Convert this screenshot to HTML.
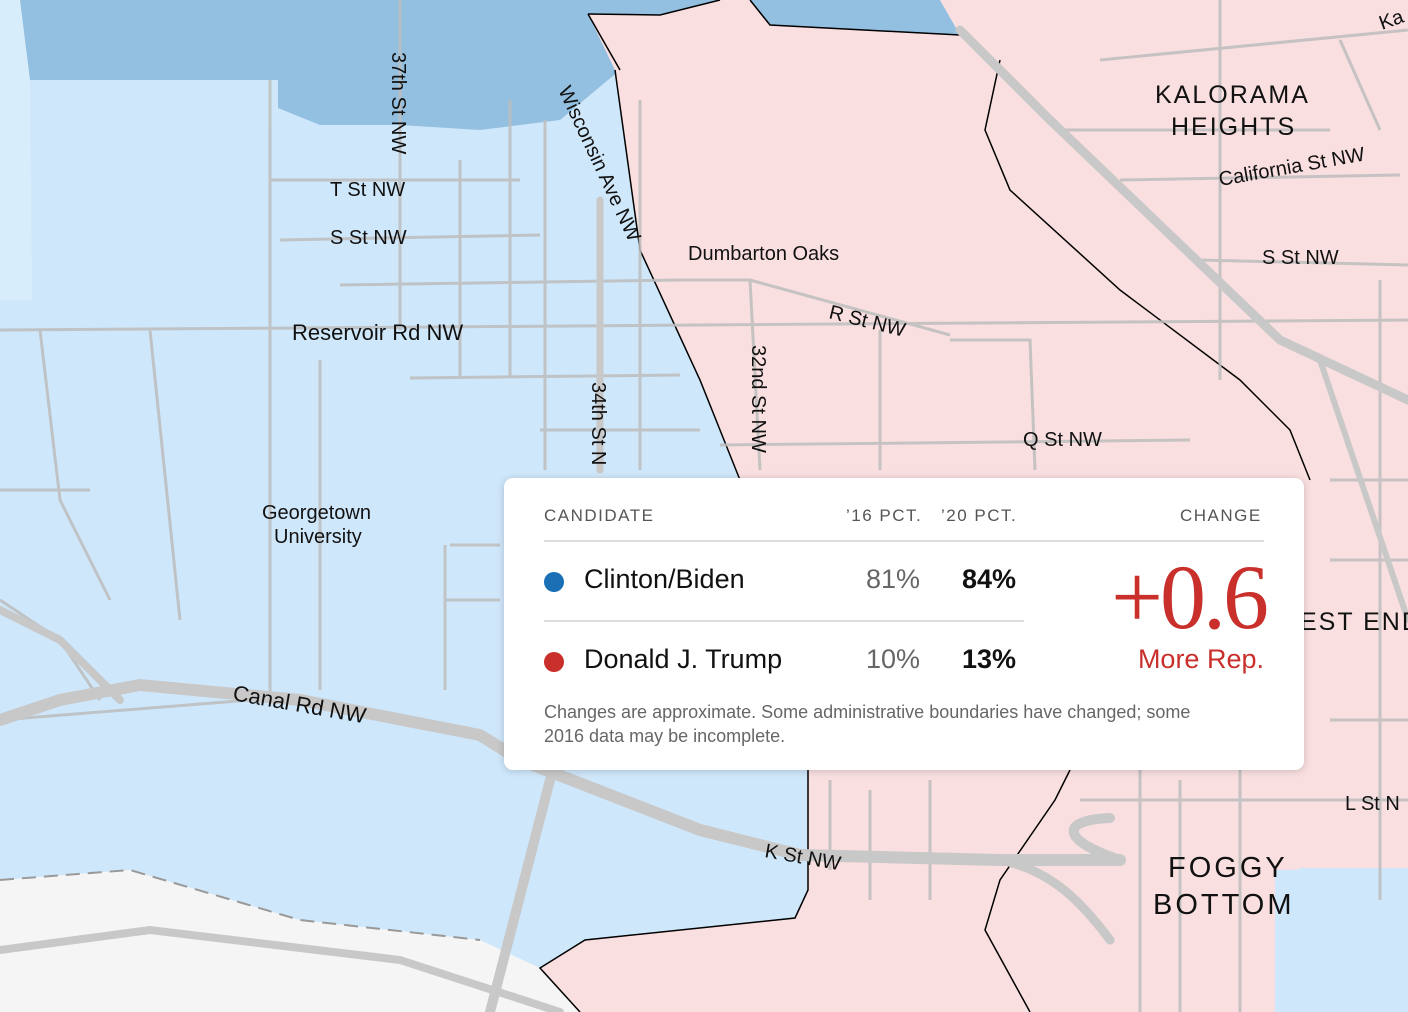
<!DOCTYPE html>
<html><head><meta charset="utf-8"><style>
body{margin:0;width:1408px;height:1012px;overflow:hidden;font-family:"Liberation Sans",sans-serif;}
svg{position:absolute;left:0;top:0}
.lab{font-family:"Liberation Sans",sans-serif;font-size:20px;fill:#111}
#tip{position:absolute;left:504px;top:478px;width:800px;height:292px;background:#fff;border-radius:9px;box-shadow:0 1px 8px rgba(0,0,0,.18);}
#tip div{position:absolute;white-space:nowrap}
.h{font-size:17px;color:#555;letter-spacing:1.5px;top:28px}
.n{font-size:27px;color:#111}
.p{font-size:27px;color:#666}
.b{font-size:27px;color:#111;font-weight:bold}
.dot{width:20px;height:20px;border-radius:50%}
</style></head><body>
<svg width="1408" height="1012" viewBox="0 0 1408 1012">
<rect width="1408" height="1012" fill="#cfe7fa"/>
<polygon points="0,0 30,80 278,80 278,108 320,125 400,125 480,130 560,120 620,70 588,14 660,15 720,0" fill="#93bfe0"/>
<polygon points="720,0 750,0 770,25 960,35 940,0" fill="#93bfe0"/>
<polygon points="0,0 20,0 30,80 32,300 0,300" fill="#d8edfc"/>
<polygon points="588,14 660,15 720,0 750,0 770,25 960,35 940,0 1408,0 1408,868 1300,868 1275,890 1275,1012 580,1012 540,968 585,940 795,918 808,890 808,770 740,480 700,380 640,250 615,70" fill="#f9dfe0"/>
<polygon points="1275,870 1408,868 1408,1012 1275,1012" fill="#cfe7fa"/>
<polygon points="0,880 130,870 300,920 480,940 540,968 580,1012 0,1012" fill="#f5f5f5"/>
<g fill="none" stroke="#000" stroke-width="1.5">
<polyline points="588,14 660,15 720,0"/><polyline points="750,0 770,25 960,35"/>
<polyline points="620,70 588,14"/><polyline points="615,70 640,250 700,380 740,480"/>
<polyline points="808,770 808,890 795,918 585,940 540,968 580,1012"/>
<polyline points="1000,60 985,130 1010,190 1120,290 1240,380 1290,430 1310,480"/>
<polyline points="1070,770 1055,800 1000,880 985,930 1030,1012"/>
</g>
<g fill="none" stroke="#bdbdbd" stroke-width="3" opacity=".85">
<path d="M0,330 L300,328 L700,325 L1408,320"/>
<path d="M270,180 L520,180 M280,240 L540,235 M340,285 L680,280 M410,378 L680,375 M540,430 L700,430"/>
<path d="M400,0 L400,330 M460,160 L460,378 M510,100 L510,378 M545,120 L545,470 M640,100 L640,470"/>
<path d="M270,80 L270,700 M320,360 L320,690 M150,330 L180,620 M40,330 L60,500 L110,600"/>
<path d="M450,545 L500,545 M445,545 L445,690 M445,600 L500,600"/>
<path d="M680,280 L750,280 L950,335 M750,280 L760,470 M880,330 L880,470 M950,340 L1030,340 L1035,470 M720,445 L1190,440"/>
<path d="M1060,130 L1330,130 M1120,180 L1400,175 M1200,260 L1408,265 M1220,0 L1220,380 M1340,40 L1380,130 M1100,60 L1408,30 M1380,280 L1380,900 M1330,480 L1408,480 M1330,560 L1408,560 M1330,720 L1408,720"/>
<path d="M830,780 L830,870 M870,790 L870,900 M930,780 L930,900 M1080,800 L1408,800 M1140,760 L1140,1012 M1180,780 L1180,1012 M1240,770 L1240,1012"/>
<path d="M0,720 L250,700 M0,600 L60,640 L100,700 M0,490 L90,490"/>
</g>
<g fill="none" stroke="#c8c8c8" stroke-linecap="round">
<path d="M0,720 L60,700 L140,685 L300,700 L480,735 L520,760 L700,830 L800,855 L1000,860 L1120,860" stroke-width="12"/>
<path d="M1120,860 C1060,840 1060,820 1110,818" stroke-width="10"/>
<path d="M1000,860 C1050,870 1080,900 1110,940" stroke-width="9"/>
<path d="M550,780 L490,1012" stroke-width="10"/>
<path d="M0,950 L150,930 L400,960 L560,1012" stroke-width="8"/>
<path d="M960,30 L1050,120 L1280,340 L1408,400" stroke-width="9"/>
<path d="M600,200 L600,470" stroke-width="7"/>
<path d="M0,610 L60,640 L120,700" stroke-width="8"/>
<path d="M1320,360 L1408,620" stroke-width="6"/>
</g>
<path d="M0,880 L130,870 L300,920 L480,940" fill="none" stroke="#999" stroke-width="2" stroke-dasharray="14,8"/>
<text class="lab" x="330" y="196">T St NW</text>
<text class="lab" x="330" y="244">S St NW</text>
<text class="lab" x="292" y="340" style="font-size:22px">Reservoir Rd NW</text>
<text class="lab" transform="translate(392,52) rotate(90)">37th St NW</text>
<text class="lab" transform="translate(592,382) rotate(90)">34th St N</text>
<text class="lab" transform="translate(752,345) rotate(90)">32nd St NW</text>
<text class="lab" transform="translate(558,90) rotate(65)">Wisconsin Ave NW</text>
<text class="lab" x="688" y="260">Dumbarton Oaks</text>
<text class="lab" transform="translate(828,318) rotate(14)">R St NW</text>
<text class="lab" x="1023" y="446">Q St NW</text>
<text class="lab" x="262" y="519">Georgetown</text>
<text class="lab" x="274" y="543">University</text>
<text class="lab" transform="translate(232,700) rotate(10)" style="font-size:22px">Canal Rd NW</text>
<text class="lab" transform="translate(764,857) rotate(10)">K St NW</text>
<text class="lab" transform="translate(1220,186) rotate(-10)">California St NW</text>
<text class="lab" x="1262" y="264">S St NW</text>
<text class="lab" x="1345" y="810">L St N</text>
<text class="lab" x="1155" y="103" style="font-size:25px;letter-spacing:2px">KALORAMA</text>
<text class="lab" x="1171" y="135" style="font-size:25px;letter-spacing:2px">HEIGHTS</text>
<text class="lab" x="1300" y="630" style="font-size:25px;letter-spacing:2px">EST END</text>
<text class="lab" x="1168" y="877" style="font-size:29px;letter-spacing:3px">FOGGY</text>
<text class="lab" x="1153" y="914" style="font-size:29px;letter-spacing:3px">BOTTOM</text>
<text class="lab" transform="translate(1382,30) rotate(-20)">Ka</text>
</svg>
<div id="tip">
<div class="h" style="left:40px">CANDIDATE</div>
<div class="h" style="left:342px">’16 PCT.</div>
<div class="h" style="left:437px">’20 PCT.</div>
<div class="h" style="left:676px">CHANGE</div>
<div style="left:40px;top:62px;width:720px;height:2px;background:#ddd"></div>
<div class="dot" style="left:40px;top:94px;background:#1a6fb5"></div>
<div class="n" style="left:80px;top:86px">Clinton/Biden</div>
<div class="p" style="left:362px;top:86px">81%</div>
<div class="b" style="left:458px;top:86px">84%</div>
<div style="left:40px;top:142px;width:480px;height:2px;background:#ddd"></div>
<div class="dot" style="left:40px;top:174px;background:#c9302c"></div>
<div class="n" style="left:80px;top:166px">Donald J. Trump</div>
<div class="p" style="left:362px;top:166px">10%</div>
<div class="b" style="left:458px;top:166px">13%</div>
<div style="right:38px;top:74px;font-family:'Liberation Serif',serif;font-size:92px;color:#c9302c;line-height:90px;letter-spacing:-3px">+0.6</div>
<div style="right:40px;top:166px;font-size:27px;color:#c9302c">More Rep.</div>
<div style="left:40px;top:222px;font-size:18px;color:#666;line-height:24px;white-space:normal;width:680px">Changes are approximate. Some administrative boundaries have changed; some 2016 data may be incomplete.</div>
</div>
</body></html>
